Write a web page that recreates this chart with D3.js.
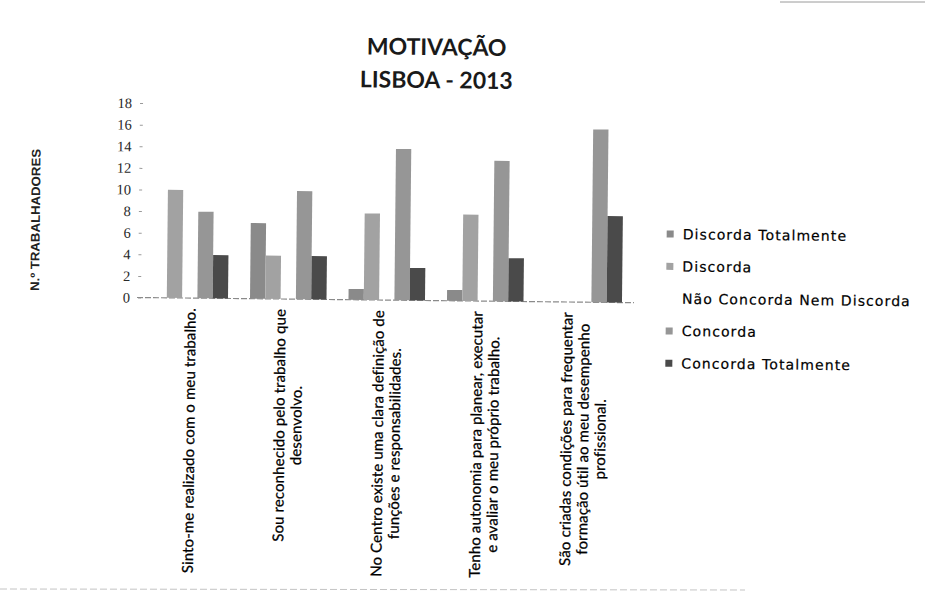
<!DOCTYPE html>
<html>
<head>
<meta charset="utf-8">
<script src="https://cdn.jsdelivr.net/npm/d3@7"></script>
<style>
  html, body { margin: 0; padding: 0; background: #fff; }
  svg { display: block; }
</style>
</head>
<body>
<div id="chart"></div>
<script>
// ---- data ----
const titleLines = ["MOTIVAÇÃO", "LISBOA - 2013"];
const yAxisTitle = "N.º TRABALHADORES";
const categories = [
  "Sinto-me realizado com o meu trabalho.",
  "Sou reconhecido pelo trabalho que\ndesenvolvo.",
  "No Centro existe uma clara definição de\nfunções e responsabilidades.",
  "Tenho autonomia para planear, executar\ne avaliar o meu próprio trabalho.",
  "São criadas condições para frequentar\nformação útil ao meu desempenho\nprofissional."
];
const seriesNames = ["Discorda Totalmente", "Discorda", "Não Concorda Nem Discorda", "Concorda", "Concorda Totalmente"];
const discordaTotalmente   = [0, 7, 1, 1, 0];
const discorda             = [10, 4, 8, 8, 0];
const naoConcordaNemDiscorda = [0, 0, 0, 0, 0];
const concorda             = [8, 10, 14, 13, 16];
const concordaTotalmente   = [4, 4, 3, 4, 8];
const yTicks = [0, 2, 4, 6, 8, 10, 12, 14, 16, 18];
const seriesColors = ["#8a8a8a", "#a2a2a2", "#ffffff", "#969696", "#4a4a4a"];

const seriesValues = [discordaTotalmente, discorda, naoConcordaNemDiscorda, concorda, concordaTotalmente];

// ---- layout ----
const W = 925, H = 596;
const svg = d3.select("#chart").append("svg").attr("width", W).attr("height", H);
svg.append("rect").attr("width", W).attr("height", H).attr("fill", "#fff");

// scan artifacts (chart border remnants)
svg.append("line").attr("x1", 0).attr("x2", 745).attr("y1", 589).attr("y2", 590)
  .attr("stroke", "#c4c4c4").attr("stroke-width", 1).attr("stroke-dasharray", "7 3");
svg.append("line").attr("x1", 780).attr("x2", 925).attr("y1", 2).attr("y2", 2)
  .attr("stroke", "#9a9a9a").attr("stroke-width", 1);

// the scanned page is slightly tilted
const root = svg.append("g").attr("transform", "rotate(0.6,137,297.5)");

const x0 = d3.scaleBand().domain(categories).range([140.5, 633]).paddingInner(0).paddingOuter(0);
const x1 = d3.scaleBand().domain(seriesNames).range([11, x0.bandwidth() - 11]).padding(0);
const y = d3.scaleLinear().domain([0, 18]).range([297.5, 103]);
const color = d3.scaleOrdinal().domain(seriesNames).range(seriesColors);

// title
root.append("text").attr("x", 434).attr("y", 52).attr("text-anchor", "middle")
  .attr("font-family", "Lato, 'Open Sans', sans-serif").attr("font-weight", 700)
  .attr("font-size", 23).attr("fill", "#1a1a1a").text(titleLines[0]);
root.append("text").attr("x", 434).attr("y", 85).attr("text-anchor", "middle")
  .attr("font-family", "Lato, 'Open Sans', sans-serif").attr("font-weight", 700)
  .attr("font-size", 23).attr("fill", "#1a1a1a").text(titleLines[1]);

// y axis
const yAxis = root.append("g").attr("transform", "translate(141,0)")
  .call(d3.axisLeft(y).tickValues(yTicks).tickSize(3).tickPadding(8).tickFormat(d3.format("d")));
yAxis.select(".domain").remove();
yAxis.selectAll(".tick line").attr("stroke", "#9a9a9a");
yAxis.selectAll(".tick text").attr("font-family", "'Liberation Serif', 'DejaVu Serif', serif")
  .attr("font-size", 14.5).attr("fill", "#2a2a2a");

// y axis title
root.append("text")
  .attr("transform", "translate(35,221) rotate(-90)")
  .attr("text-anchor", "middle").attr("dominant-baseline", "central")
  .attr("font-family", "'Liberation Sans Narrow', 'Liberation Sans', sans-serif")
  .attr("font-weight", 700).attr("font-size", 12.5).attr("fill", "#222")
  .attr("textLength", 142).attr("lengthAdjust", "spacingAndGlyphs")
  .text(yAxisTitle);

// baseline
root.append("line").attr("x1", 137).attr("x2", 634).attr("y1", y(0)).attr("y2", y(0))
  .attr("stroke", "#8a8a8a").attr("stroke-width", 1.2).attr("stroke-dasharray", "6 2");

// bars
const groups = root.append("g").selectAll("g").data(categories).join("g")
  .attr("transform", d => `translate(${x0(d)},0)`);
groups.selectAll("rect")
  .data((d, ci) => seriesNames.map((s, si) => ({ s, v: seriesValues[si][ci] })))
  .join("rect")
  .attr("x", d => x1(d.s))
  .attr("width", x1.bandwidth())
  .attr("y", d => y(d.v))
  .attr("height", d => y(0) - y(d.v))
  .attr("fill", d => color(d.s));

// category labels (rotated, lines centred within block, block ending near axis)
const labelFont = "Lato, 'Open Sans', sans-serif";
const labelSize = 15;
const lineH = 17;
const labelTop = 307.5;
const labelG = root.append("g");
const probe = labelG.append("text").attr("font-family", labelFont).attr("font-size", labelSize)
  .text(categories[0]);
const probeLen = probe.node().getComputedTextLength();
probe.remove();
const letterSp = Math.max(0, (265 - probeLen) / (categories[0].length - 1));

categories.forEach(cat => {
  const lines = cat.split("\n");
  const cx = x0(cat) + x0.bandwidth() / 2;
  const g = labelG.append("g").attr("transform", `translate(${cx},${labelTop}) rotate(-90)`);
  const texts = lines.map((ln, i) => g.append("text")
    .attr("font-family", labelFont).attr("font-size", labelSize)
    .attr("letter-spacing", letterSp)
    .attr("fill", "#000")
    .attr("stroke", "#000").attr("stroke-width", 0.25)
    .attr("dominant-baseline", "central")
    .attr("text-anchor", "middle")
    .attr("y", (i - (lines.length - 1) / 2) * lineH)
    .text(ln));
  const maxLen = d3.max(texts, t => t.node().getComputedTextLength());
  texts.forEach(t => t.attr("x", -maxLen / 2));
});

// legend
const legend = root.append("g");
const legendY0 = 228.5, legendStep = 32.3;
seriesNames.forEach((s, i) => {
  const ly = legendY0 + i * legendStep;
  legend.append("rect").attr("x", 666).attr("y", ly - 3.5).attr("width", 7).attr("height", 7)
    .attr("fill", color(s));
  legend.append("text").attr("x", 682).attr("y", ly).attr("dominant-baseline", "central")
    .attr("font-family", "'DejaVu Sans', Verdana, sans-serif").attr("font-size", 14)
    .attr("letter-spacing", 1.1).attr("fill", "#000")
    .attr("stroke", "#000").attr("stroke-width", 0.2).text(s);
});
</script>
</body>
</html>
